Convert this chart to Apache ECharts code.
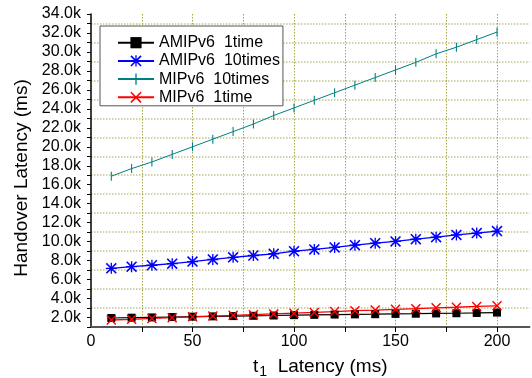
<!DOCTYPE html>
<html>
<head>
<meta charset="utf-8">
<script src="https://cdn.jsdelivr.net/npm/echarts@6/dist/echarts.min.js"></script>
<style>
    html, body { margin: 0; padding: 0; background: #fff; }
    #chart { width: 532px; height: 378px; }
</style>
</head>
<body>
<div id="chart"></div>
<script>
// t1 latency (ms) on the x axis
const t1Latency = [10, 20, 30, 40, 50, 60, 70, 80, 90, 100, 110, 120, 130, 140, 150, 160, 170, 180, 190, 200];

// handover latency (ms)
const amip1time = [1950, 1980, 2010, 2050, 2090, 2120, 2150, 2180, 2210, 2250, 2280, 2310, 2330, 2350, 2380, 2400, 2430, 2450, 2480, 2520];
const amip10times = [7190, 7360, 7510, 7680, 7900, 8120, 8350, 8540, 8720, 8990, 9180, 9390, 9630, 9840, 10020, 10260, 10470, 10710, 10900, 11110];
const mip10times = [16900, 17700, 18400, 19200, 20000, 20800, 21600, 22400, 23300, 24100, 24900, 25700, 26500, 27300, 28100, 28900, 29800, 30500, 31300, 32100];
const mip1time = [1740, 1810, 1900, 1980, 2070, 2150, 2230, 2300, 2380, 2460, 2540, 2630, 2720, 2780, 2860, 2930, 3020, 3080, 3170, 3230];

const seriesNames = ['AMIPv6  1time', 'AMIPv6  10times', 'MIPv6  10times', 'MIPv6  1time'];

// tick labels
const xLabels = [0, 50, 100, 150, 200];
const xGridTicks = [25, 50, 75, 100, 125, 150, 175, 200];
const yLabels = [2000, 4000, 6000, 8000, 10000, 12000, 14000, 16000, 18000, 20000, 22000, 24000, 26000, 28000, 30000, 32000, 34000];

const FONT = 'Liberation Sans, Arial, sans-serif';

const pairs = (ys) => t1Latency.map((x, i) => [x, ys[i]]);

// marker shapes
const crossPath = 'path://M0,1 L1,0 L5,4 L9,0 L10,1 L6,5 L10,9 L9,10 L5,6 L1,10 L0,9 L4,5 Z';
const starPath = 'path://M0,1 L1,0 L5,4 L9,0 L10,1 L6,5 L10,9 L9,10 L5,6 L1,10 L0,9 L4,5 Z'
    + ' M4.4,0 L5.6,0 L5.6,10 L4.4,10 Z M0,4.4 L10,4.4 L10,5.6 L0,5.6 Z';
// thin vertical bar; the empty sub-paths keep a square bounding box
const barPath = 'path://M4.4,0 L5.6,0 L5.6,10 L4.4,10 Z M0,0 L0,0 Z M10,10 L10,10 Z';

const chart = echarts.init(document.getElementById('chart'), null, { renderer: 'canvas' });

const option = {
    backgroundColor: '#fff',
    animation: false,
    textStyle: { fontFamily: FONT, color: '#000' },
    grid: {
        left: 91,
        top: 14,
        right: 2.5,
        bottom: 51,
        containLabel: false,
        outerBoundsMode: 'none',
    },
    legend: {
        data: seriesNames,
        orient: 'vertical',
        left: 100,
        top: 26,
        padding: [8.7, 3, 0.5, 17],
        itemWidth: 36,
        itemHeight: 14,
        itemGap: 2.2,
        backgroundColor: '#fff',
        borderColor: '#555',
        borderWidth: 1,
        borderRadius: 0,
        textStyle: { fontFamily: FONT, fontSize: 16, color: '#000', padding: [0, 0, 0, 0] },
    },
    xAxis: {
        type: 'value',
        min: 0,
        max: 216,
        interval: 25,
        name: '{t|t}{s|1}{t|  Latency (ms)}',
        nameLocation: 'middle',
        nameGap: 25,
        nameTextStyle: {
            padding: [0, 0, 0, 20],
            rich: {
                t: { fontFamily: FONT, fontSize: 19, color: '#000', lineHeight: 22 },
                s: { fontFamily: FONT, fontSize: 14, color: '#000', lineHeight: 14, padding: [10, 0, 0, 1] },
            },
        },
        axisLine: { show: true, lineStyle: { color: '#555', width: 2 } },
        axisTick: {
            show: true,
            length: 5,
            customValues: xGridTicks,
            lineStyle: { color: '#000', width: 1 },
        },
        axisLabel: {
            customValues: xLabels,
            fontFamily: FONT,
            fontSize: 16,
            color: '#000',
            margin: 7,
        },
        splitLine: {
            show: true,
            lineStyle: { color: '#a6a646', width: 1, type: [1.5, 1.5] },
        },
    },
    yAxis: {
        type: 'value',
        min: 1000,
        max: 34000,
        interval: 1000,
        name: 'Handover Latency (ms)',
        nameLocation: 'middle',
        nameGap: 60,
        nameTextStyle: { fontFamily: FONT, fontSize: 19, color: '#000', padding: [0, 15, 0, 0] },
        axisLine: { show: true, lineStyle: { color: '#000', width: 1.5 } },
        axisTick: { show: true, length: 4, lineStyle: { color: '#000', width: 1 } },
        axisLabel: {
            customValues: yLabels,
            fontFamily: FONT,
            fontSize: 16,
            color: '#000',
            margin: 10,
            formatter: (v) => (v / 1000).toFixed(1) + 'k',
        },
        splitLine: {
            show: true,
            // grid lines only at the odd thousands
            lineStyle: { color: ['#c4c48c', 'rgba(0,0,0,0)'], width: 1.5, type: [1.5, 1.5] },
        },
    },
    series: [
        {
            name: seriesNames[0],
            type: 'line',
            data: pairs(amip1time),
            symbol: 'rect',
            symbolSize: 8,
            lineStyle: { color: '#000', width: 1.2 },
            itemStyle: { color: '#000' },
        },
        {
            name: seriesNames[1],
            type: 'line',
            data: pairs(amip10times),
            symbol: starPath,
            symbolSize: 11,
            lineStyle: { color: '#0000ff', width: 1.3 },
            itemStyle: { color: '#0000ff' },
        },
        {
            name: seriesNames[2],
            type: 'line',
            data: pairs(mip10times),
            symbol: barPath,
            symbolSize: 9,
            lineStyle: { color: '#008080', width: 1 },
            itemStyle: { color: '#008080' },
        },
        {
            name: seriesNames[3],
            type: 'line',
            data: pairs(mip1time),
            symbol: crossPath,
            symbolSize: 10,
            lineStyle: { color: '#ff0000', width: 1.3 },
            itemStyle: { color: '#ff0000' },
        },
    ],
};

chart.setOption(option);
</script>
</body>
</html>
